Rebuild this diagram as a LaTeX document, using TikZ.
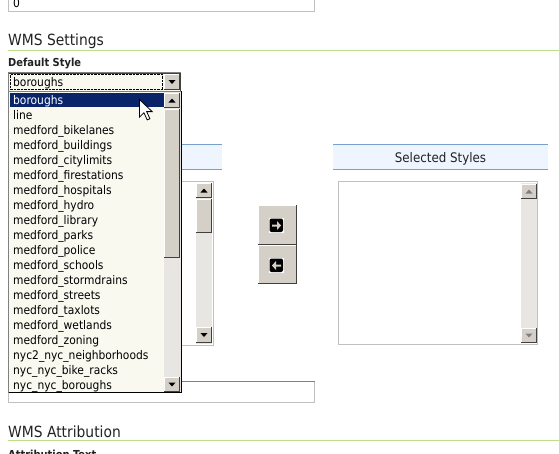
\documentclass[tikz,border=0pt]{standalone}
\usepackage{fontspec}
\setmainfont{DejaVu Sans Condensed}
\usetikzlibrary{positioning}

\definecolor{rulegreen}{RGB}{190,222,140}
\definecolor{headblue}{RGB}{238,245,255}
\definecolor{headline}{RGB}{120,160,205}
\definecolor{listbg}{RGB}{249,249,240}
\definecolor{selnavy}{RGB}{10,36,106}
\definecolor{btnface}{RGB}{212,208,200}
\definecolor{btndark}{RGB}{64,64,64}
\definecolor{trackgray}{RGB}{232,230,226}
\definecolor{boxgray}{RGB}{192,192,192}
\definecolor{inkgray}{RGB}{34,34,34}

% windows style button: face, light and dark edge
\newcommand{\winbtn}[4]{%
  \fill[btnface] (#1,#2) rectangle (#3,#4);
  \draw[white] (#1+.5,#4-1) -- (#1+.5,#2+.5) -- (#3-1,#2+.5);
  \draw[btndark] (#1,#4-.5) -- (#3-.5,#4-.5) -- (#3-.5,#2);
}
\newcommand{\uptri}[3]{\fill[#3] (#1-3.5,#2+2) -- (#1+3.5,#2+2) -- (#1,#2-2) -- cycle;}
\newcommand{\downtri}[3]{\fill[#3] (#1-3.5,#2-2) -- (#1+3.5,#2-2) -- (#1,#2+2) -- cycle;}

\begin{document}
\begin{tikzpicture}[x=1pt, y=-1pt,
  every node/.style={inner sep=0pt, anchor=base west},
  item/.style={font=\fontsize{11.9}{13}\selectfont, text=black},
  heading/.style={font=\fontsize{15.4}{18}\selectfont, text=inkgray},
  fieldlabel/.style={font=\bfseries\fontsize{11}{13}\selectfont, text=inkgray},
  textbox/.style={draw=boxgray, fill=white},
  band/.style={fill=headblue}]
	\clip (0,0) rectangle (559,453);
	\fill[white] (0,0) rectangle (559,453);

	% field above
	\draw[textbox] (8.5,-5) rectangle (314.5,11.5);
	\node[item] (zero) at (13,7) {0};

	% wms settings
	\node[heading] (wmsset) at (8,45) {WMS Settings};
	\draw[rulegreen] (8,50.5) -- (559,50.5);
	\node[fieldlabel] (defstyle) at (8,66) {Default Style};

	% header bands
	\fill[band] (8,144) rectangle (222,170);
	\draw[headline] (8,144.5) -- (222,144.5) (8,169.5) -- (222,169.5);
	\fill[band] (333,144) rectangle (548,170);
	\draw[headline] (333,144.5) -- (548,144.5) (333,169.5) -- (548,169.5);
	\node[item, anchor=base, font=\fontsize{13.2}{15}\selectfont, text=inkgray] (selhead) at (440.5,162) {Selected Styles};

	% available styles list (behind)
	\draw[textbox] (8.5,181.5) rectangle (213.5,345.5);
	\fill[trackgray] (196,183) rectangle (212,344);
	\winbtn{196}{183}{212}{198}
	\uptri{204}{190.5}{black}
	\winbtn{196}{199}{212}{233}
	\winbtn{196}{327}{212}{343}
	\downtri{204}{335}{black}

	% move buttons
	\winbtn{258}{205}{297}{245}
	\winbtn{258}{245}{297}{284}
	\draw[btndark] (258,244.5) -- (297,244.5);
	\fill[white] (268.5,217.5) rectangle (284,233);
	\fill[black, rounded corners=2pt] (269.5,218.5) rectangle (283,232);
	\fill[btnface] (272,224.5) -- (277,224.5) -- (277,221) -- (281,225.5) -- (277,230) -- (277,226.5) -- (272,226.5) -- cycle;
	\fill[white] (268.5,257.5) rectangle (284,273);
	\fill[black, rounded corners=2pt] (269.5,258.5) rectangle (283,272);
	\fill[btnface] (281,264.5) -- (276,264.5) -- (276,261) -- (272,265.5) -- (276,270) -- (276,266.5) -- (281,266.5) -- cycle;

	% selected styles list
	\draw[textbox] (338.5,181.5) rectangle (537.5,344.5);
	\fill[trackgray] (521,183) rectangle (537,343);
	\winbtn{521}{184}{537}{199}
	\uptri{529}{191.5}{gray}
	\winbtn{521}{328}{537}{343}
	\downtri{529}{335.5}{gray}

	% field below
	\draw[textbox] (8.5,381.5) rectangle (314.5,402.5);
	\draw[gray] (8.5,381.5) -- (314.5,381.5);

	% wms attribution
	\node[heading] (wmsattr) at (8,437) {WMS Attribution};
	\draw[rulegreen] (8,440.5) -- (559,440.5);
	\node[fieldlabel] (attrtext) at (8,458) {Attribution Text};

	% combo box
	\fill[listbg] (8,72) rectangle (181,91);
	\draw[gray] (8.5,91) -- (8.5,72.5) -- (181,72.5);
	\draw[btndark] (8.5,73.5) -- (180.5,73.5) -- (180.5,91);
	\draw[black, densely dotted] (10.5,74.5) rectangle (162.5,89.5);
	\node[item] (combo) at (13,86) {boroughs};
	\winbtn{164}{74}{180}{90}
	\downtri{172}{82}{black}

	% dropped list
	\fill[listbg] (8,91) rectangle (182,393);
	\draw[gray] (8.5,393) -- (8.5,91.5) -- (182,91.5);
	\draw[black] (8.5,392.5) -- (181.5,392.5) -- (181.5,91);
	\fill[selnavy] (10,93) rectangle (164,107);
	\node[item, text=white] (item0) at (13,104) {boroughs};
	\foreach \name [count=\i] in {line, medford\_bikelanes, medford\_buildings,
	    medford\_citylimits, medford\_firestations, medford\_hospitals,
	    medford\_hydro, medford\_library, medford\_parks, medford\_police,
	    medford\_schools, medford\_stormdrains, medford\_streets,
	    medford\_taxlots, medford\_wetlands, medford\_zoning,
	    nyc2\_nyc\_neighborhoods, nyc\_nyc\_bike\_racks, nyc\_nyc\_boroughs} {
		\node[item] (item\i) at (13,104+15*\i) {\name};
	}
	\fill[trackgray] (164,92) rectangle (181,392);
	\winbtn{164}{93}{180}{108}
	\uptri{172}{100.5}{black}
	\winbtn{164}{109}{180}{258}
	\winbtn{164}{377}{180}{392}
	\downtri{172}{384.5}{black}

	% mouse pointer
	\begin{scope}[shift={(139.5,99.5)}, scale=1.1]
		\draw[black, fill=white, line join=miter, line width=0.8pt]
			(0,0) -- (0,16) -- (4,12) -- (7,18.5) -- (9.5,17.5) -- (6.5,11) -- (11.5,11) -- cycle;
	\end{scope}
\end{tikzpicture}
\end{document}
